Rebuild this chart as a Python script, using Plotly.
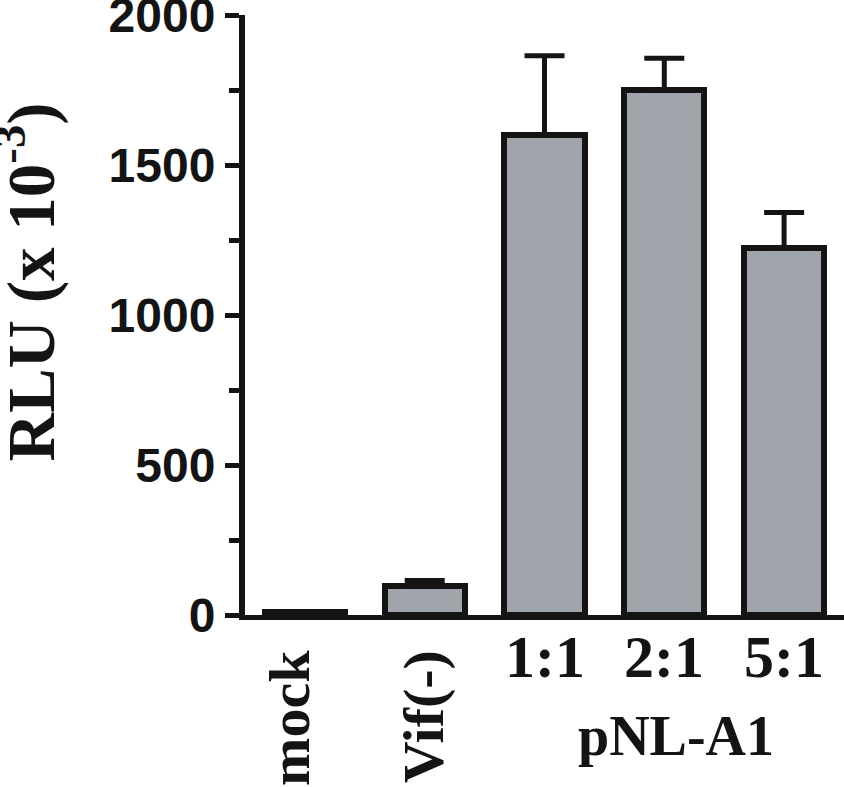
import plotly.graph_objects as go

categories = ["mock", "Vif(-)", "1:1", "2:1", "5:1"]
values = [10, 97, 1600, 1752, 1222]
errors_up = [0, 18, 265, 104, 120]
y_ticks = [0, 500, 1000, 1500, 2000]
group_label = "pNL-A1"

INK = "#141414"
FILL = "#a0a4ab"
SERIF = "Liberation Serif"
SANS = "Liberation Sans"

W, H = 844, 787
L, T, PH = 245, 15, 600
B = H - T - PH
Y0 = T + PH  # pixel row of y=0 in figure coords


def py(px):
    return (Y0 - px) / PH


fig = go.Figure()
fig.add_trace(go.Bar(
    x=categories, y=values, width=0.67,
    marker=dict(color=FILL, line=dict(color=INK, width=6)),
    error_y=dict(type="data", symmetric=False, array=errors_up,
                 arrayminus=[0] * len(values), color=INK, thickness=5, width=20),
    showlegend=False,
))

annotations = []
rot_shift = [-16, -1]
for cat, xs in zip(categories[:2], rot_shift):
    annotations.append(dict(
        x=cat, xref="x", y=py(648), yref="paper",
        text=f"<b>{cat}</b>", textangle=-90, showarrow=False,
        xanchor="center", yanchor="top", xshift=xs,
        font=dict(family=SERIF, size=58, color=INK),
    ))
for cat in categories[2:]:
    annotations.append(dict(
        x=cat, xref="x", y=py(622), yref="paper",
        text=f"<b>{cat}</b>", showarrow=False,
        xanchor="center", yanchor="top",
        font=dict(family=SERIF, size=60, color=INK),
    ))
annotations.append(dict(
    x=categories[3], xref="x", y=py(703), yref="paper",
    text=f"<b>{group_label}</b>", showarrow=False, xshift=12,
    xanchor="center", yanchor="top",
    font=dict(family=SERIF, size=56, color=INK),
))
# y title
annotations.append(dict(
    x=(-18 - L) / (W - L), xref="paper", y=py(282), yref="paper",
    text="<b>RLU (x 10<sup>-3</sup>)</b>", textangle=-90, showarrow=False,
    xanchor="left", yanchor="middle",
    font=dict(family=SERIF, size=67, color=INK),
))

fig.update_layout(
    width=W, height=H,
    margin=dict(l=L, r=0, t=T, b=B, pad=0, autoexpand=False),
    paper_bgcolor="white", plot_bgcolor="white",
    bargap=0,
    xaxis=dict(
        range=[-0.5, 4.5], showticklabels=False, ticks="",
        showline=True, linecolor=INK, linewidth=5, showgrid=False,
        zeroline=False, automargin=False,
    ),
    yaxis=dict(
        range=[0, 2000.5], tickvals=y_ticks, ticks="outside", ticklen=14,
        tickwidth=5, tickcolor=INK, ticklabeloverflow="allow",
        showline=True, linecolor=INK, linewidth=6, showgrid=False,
        zeroline=False, automargin=False,
        tickfont=dict(family=SANS, size=48, color=INK, weight="bold"),
        minor=dict(dtick=250, ticks="outside", ticklen=10, tickwidth=5,
                   tickcolor=INK, showgrid=False),
    ),
    annotations=annotations,
)

fig.write_html(
    "out.html",
    config={"displayModeBar": False},
    post_script="document.body.style.margin='0';document.body.style.overflow='hidden';",
)
